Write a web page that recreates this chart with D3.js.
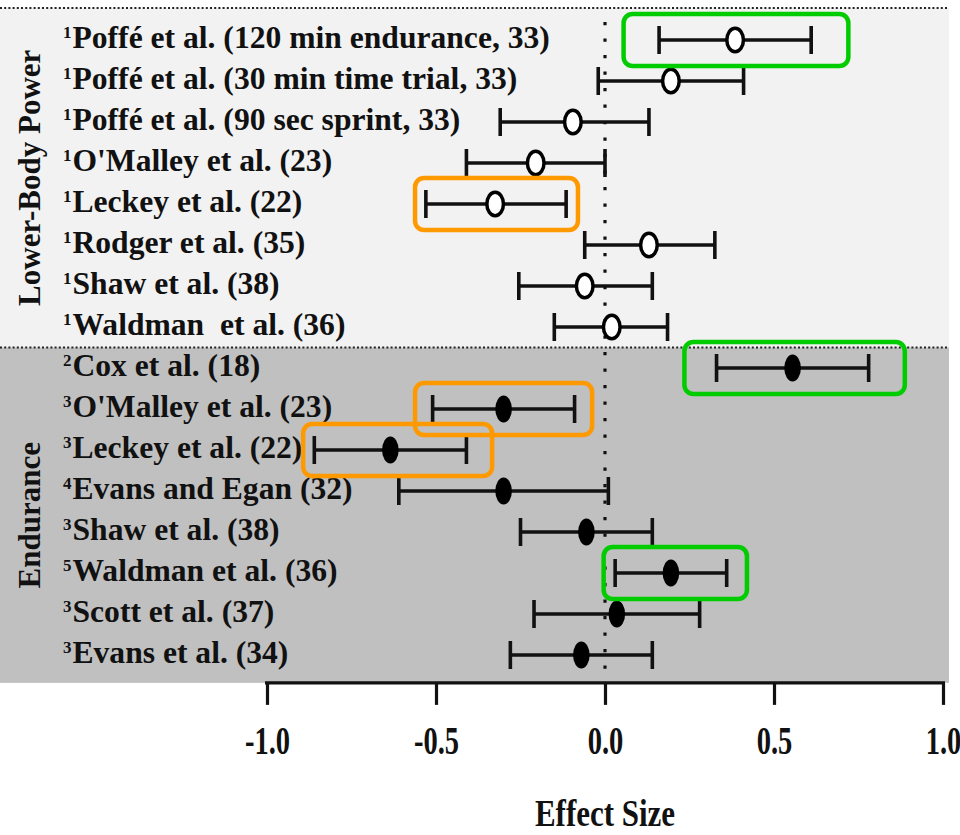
<!DOCTYPE html>
<html>
<head>
<meta charset="utf-8">
<script src="https://cdn.jsdelivr.net/npm/d3@7"></script>
<style>
  html, body { margin: 0; padding: 0; background: #fff; }
  svg { display: block; font-family: "Liberation Serif", "Times New Roman", serif; font-weight: bold; }
  text { white-space: pre; }
</style>
</head>
<body>
<svg id="chart" width="960" height="835"></svg>
<script>
// ---- data ----
const studies = [
  "Poffé et al. (120 min endurance, 33)",
  "Poffé et al. (30 min time trial, 33)",
  "Poffé et al. (90 sec sprint, 33)",
  "O'Malley et al. (23)",
  "Leckey et al. (22)",
  "Rodger et al. (35)",
  "Shaw et al. (38)",
  "Waldman  et al. (36)",
  "Cox et al. (18)",
  "O'Malley et al. (23)",
  "Leckey et al. (22)",
  "Evans and Egan (32)",
  "Shaw et al. (38)",
  "Waldman et al. (36)",
  "Scott et al. (37)",
  "Evans et al. (34)"
];
const superscripts = ["1","1","1","1","1","1","1","1","2","3","3","4","3","5","3","3"];
const effectSize = [0.385, 0.195, -0.095, -0.205, -0.325, 0.13, -0.06, 0.02,
                    0.555, -0.30, -0.635, -0.30, -0.055, 0.195, 0.035, -0.07];
const ciLower    = [0.16, -0.02, -0.31, -0.41, -0.53, -0.06, -0.255, -0.15,
                    0.33, -0.51, -0.86, -0.61, -0.25, 0.03, -0.21, -0.28];
const ciUpper    = [0.61, 0.41, 0.13, 0.0, -0.115, 0.325, 0.14, 0.185,
                    0.78, -0.09, -0.41, 0.01, 0.14, 0.36, 0.28, 0.14];
const groupNames = ["Lower-Body Power", "Endurance"];
const groupSizes = [8, 8];
const xTicks = [-1.0, -0.5, 0.0, 0.5, 1.0];
const xTickLabels = ["-1.0", "-0.5", "0.0", "0.5", "1.0"];
const xTitle = "Effect Size";
// highlight annotations (row index, value range, colour kind)
const hlRows = [0, 4, 8, 9, 10, 13];
const hlLow  = [0.055, -0.562, 0.235, -0.562, -0.893, -0.004];
const hlHigh = [0.72, -0.08, 0.887, -0.038, -0.334, 0.42];
const hlKind = ["good", "bad", "good", "bad", "bad", "good"];

// ---- scales ----
const svg = d3.select("#chart");
const x = d3.scaleLinear().domain([-1, 1]).range([267, 943]);
const rows = d3.range(studies.length);
const y = d3.scalePoint().domain(rows).range([40, 655]);
const step = y.step();
const groupOf = i => (i < groupSizes[0] ? 0 : 1);
const hlColor = d3.scaleOrdinal().domain(["good", "bad"]).range(["#00cc00", "#ff9900"]);

// ---- background bands ----
let start = 0;
const bands = groupNames.map((g, gi) => {
  const first = start, last = start + groupSizes[gi] - 1;
  start += groupSizes[gi];
  return { name: g, first, last, gi };
});
const bandTop = b => b.first === 0 ? y(b.first) - step * 0.78 : y(b.first) - step / 2;
const bandBot = b => b.last === studies.length - 1 ? y(b.last) + step * 0.68 : y(b.last) + step / 2;
const bandRight = x(1) + 6;

svg.selectAll("rect.band").data(bands).join("rect")
  .attr("class", "band")
  .attr("x", 0).attr("width", bandRight)
  .attr("y", bandTop).attr("height", b => bandBot(b) - bandTop(b))
  .attr("fill", b => b.gi === 0 ? "#f2f2f2" : "#c0c0c0");

// dotted separators at the top of each band
svg.selectAll("line.sep").data(bands).join("line")
  .attr("class", "sep")
  .attr("x1", 0).attr("x2", bandRight)
  .attr("y1", bandTop).attr("y2", bandTop)
  .attr("stroke", "#222").attr("stroke-width", 2.2)
  .attr("stroke-dasharray", "2,2.2");

// zero reference line
svg.append("line")
  .attr("x1", x(0)).attr("x2", x(0))
  .attr("y1", bandTop(bands[0]) + 14).attr("y2", bandBot(bands[1]))
  .attr("stroke", "#111").attr("stroke-width", 3.2)
  .attr("stroke-dasharray", "3.2,13.3");

// group labels (rotated)
svg.selectAll("text.group").data(bands).join("text")
  .attr("class", "group")
  .attr("transform", b => `translate(40, ${(bandTop(b) + bandBot(b)) / 2}) rotate(-90)`)
  .attr("text-anchor", "middle")
  .attr("font-size", 31).attr("fill", "#111")
  .text(b => b.name);

// study labels
const lab = svg.selectAll("text.study").data(rows).join("text")
  .attr("class", "study")
  .attr("x", 63).attr("y", i => y(i) + 8)
  .attr("font-size", 31.6).attr("fill", "#111");
lab.append("tspan").attr("font-size", 17).attr("dy", -10).text(i => superscripts[i]);
lab.append("tspan").attr("dy", 10).attr("dx", 1).text(i => studies[i]);

// error bars
const cap = 14;
const g = svg.selectAll("g.bar").data(rows).join("g").attr("class", "bar");
g.append("line")
  .attr("x1", i => x(ciLower[i])).attr("x2", i => x(ciUpper[i]))
  .attr("y1", i => y(i)).attr("y2", i => y(i))
  .attr("stroke", "#111").attr("stroke-width", 3.6);
g.append("line")
  .attr("x1", i => x(ciLower[i])).attr("x2", i => x(ciLower[i]))
  .attr("y1", i => y(i) - cap).attr("y2", i => y(i) + cap)
  .attr("stroke", "#111").attr("stroke-width", 3.6);
g.append("line")
  .attr("x1", i => x(ciUpper[i])).attr("x2", i => x(ciUpper[i]))
  .attr("y1", i => y(i) - cap).attr("y2", i => y(i) + cap)
  .attr("stroke", "#111").attr("stroke-width", 3.6);
g.append("ellipse")
  .attr("cx", i => x(effectSize[i])).attr("cy", i => y(i))
  .attr("rx", 8.3)
  .attr("ry", i => groupOf(i) === 0 ? 11.8 : 13.6)
  .attr("fill", i => groupOf(i) === 0 ? "#fff" : "#000")
  .attr("stroke", "#000")
  .attr("stroke-width", i => groupOf(i) === 0 ? 3.5 : 0);

// highlight boxes
svg.selectAll("rect.hl").data(hlRows.map((r, k) => k)).join("rect")
  .attr("class", "hl")
  .attr("x", k => x(hlLow[k])).attr("width", k => x(hlHigh[k]) - x(hlLow[k]))
  .attr("y", k => y(hlRows[k]) - 26).attr("height", 52)
  .attr("rx", 9).attr("ry", 9)
  .attr("fill", "none")
  .attr("stroke", k => hlColor(hlKind[k]))
  .attr("stroke-width", 4.5);

// x axis
const axisY = bandBot(bands[1]);
const axis = d3.axisBottom(x).tickValues(xTicks).tickSize(22).tickSizeOuter(0)
  .tickFormat((d, i) => xTickLabels[i]);
const ax = svg.append("g").attr("transform", `translate(0, ${axisY})`).call(axis);
ax.select(".domain").attr("stroke", "#111").attr("stroke-width", 3.2)
  .attr("d", `M${x(-1) - 2},0H${x(1) + 2}`);
ax.selectAll(".tick line").attr("stroke", "#111").attr("stroke-width", 3.2);
ax.selectAll(".tick text")
  .attr("y", null).attr("dy", null)
  .attr("transform", "translate(0, 71) scale(1, 1.38)")
  .attr("font-family", "Liberation Serif").attr("font-weight", "bold")
  .attr("font-size", 28.5).attr("fill", "#111");

// axis title
svg.append("text")
  .attr("transform", `translate(${x(0)}, 826) scale(1, 1.22)`)
  .attr("text-anchor", "middle")
  .attr("font-size", 31).attr("fill", "#111")
  .text(xTitle);
</script>
</body>
</html>
